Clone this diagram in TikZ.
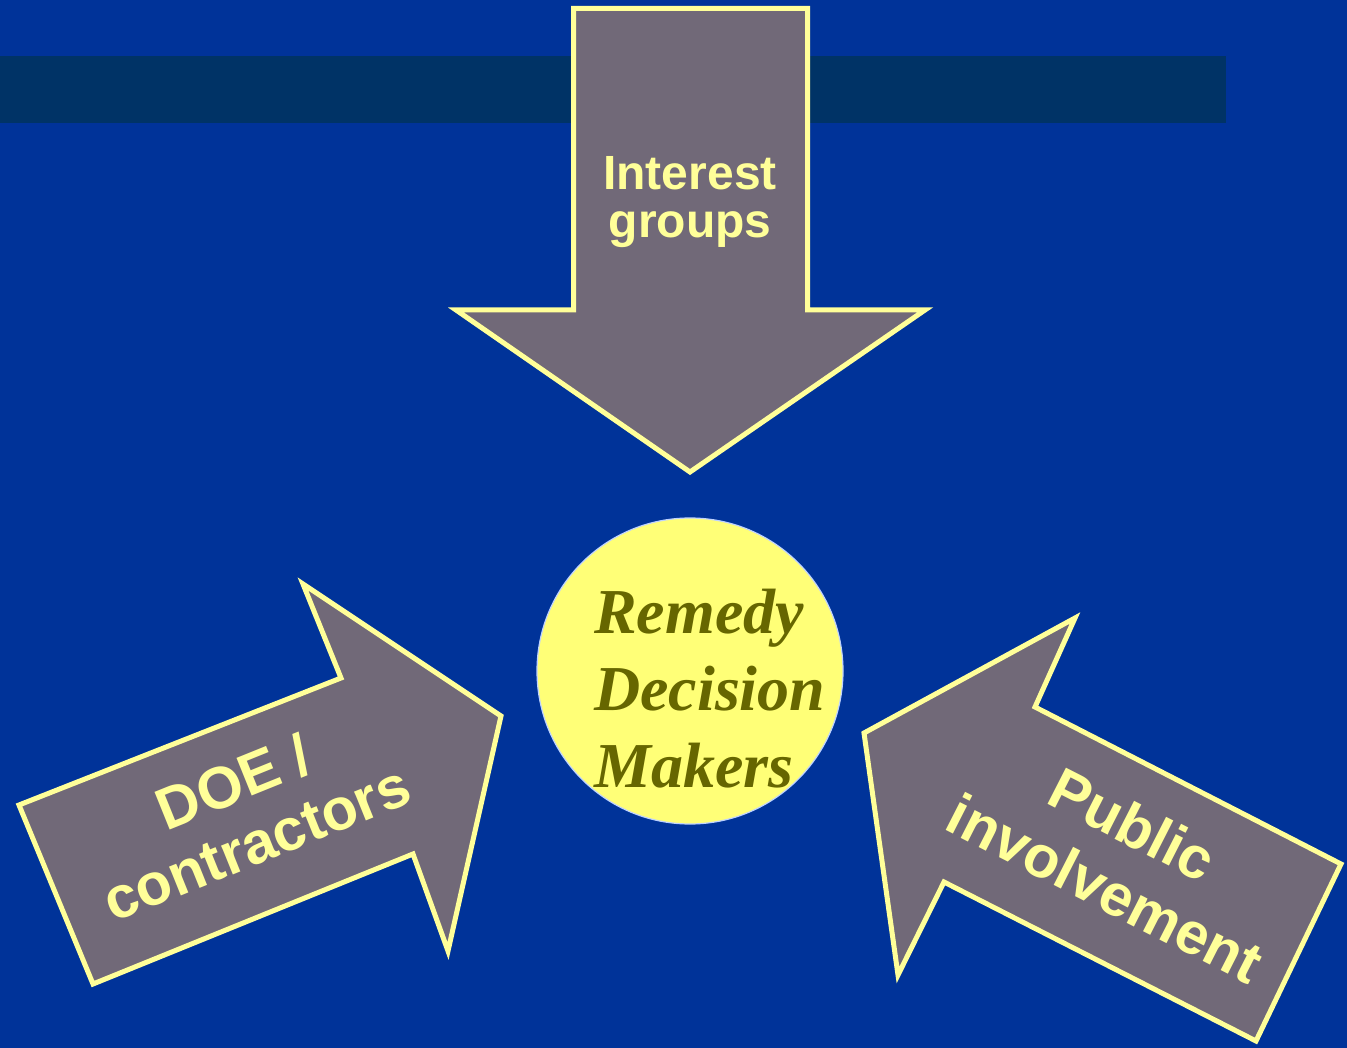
\documentclass[tikz,border=0pt]{standalone}
\usepackage{fontspec}
\setmainfont{Liberation Sans}
\newfontfamily\circlefont{Liberation Serif}
\definecolor{bgblue}{RGB}{0,51,153}
\definecolor{bandblue}{RGB}{0,51,102}
\definecolor{arrowgray}{RGB}{113,105,120}
\definecolor{paleyellow}{RGB}{255,255,153}
\definecolor{discyellow}{RGB}{255,255,119}
\definecolor{olive}{RGB}{102,102,0}
\definecolor{discedge}{RGB}{190,210,255}
\tikzset{
  bigarrow/.style={fill=arrowgray, draw=paleyellow, line width=5pt, line join=miter},
  toplabel/.style={inner sep=0pt, anchor=base, text=paleyellow, font=\fontsize{48}{48}\selectfont\bfseries},
  sidelabel/.style={inner sep=0pt, anchor=base, text=paleyellow, font=\fontsize{59}{59}\selectfont\bfseries},
  disclabel/.style={inner sep=0pt, anchor=base west, text=olive, font=\circlefont\fontsize{64}{64}\selectfont\bfseries\itshape},
  disc/.style={circle, fill=discyellow, draw=discedge, line width=1.2pt, minimum size=306pt, inner sep=0pt}
}
\begin{document}
\begin{tikzpicture}[x=1pt, y=-1pt]
  % background and band
  \fill[bgblue] (0,0) rectangle (1347,1048);
  \useasboundingbox (0,0) rectangle (1347,1048);
  \fill[bandblue] (0,56) rectangle (1226,123);

  % top arrow: Interest groups
  \draw[bigarrow] (573.5,8.5) -- (807.5,8.5) -- (807.5,310) -- (925,310)
     -- (690,472) -- (456,310) -- (573.5,310) -- cycle;
  \node[toplabel] (ig1) at (690,190) {Interest};
  \node[toplabel] (ig2) at (690,238) {groups};

  % left arrow: DOE / contractors
  \draw[bigarrow] (19,805) -- (341,678) -- (303,584) -- (501,716)
     -- (448,951) -- (413,854) -- (93,984) -- cycle;
  \node[sidelabel, rotate=22] (doe1) at (241,801) {DOE /};
  \node[sidelabel, rotate=22] (doe2) at (264,862) {contractors};

  % right arrow: Public involvement
  \draw[bigarrow] (864,733) -- (1075,618) -- (1035,707) -- (1341,864)
     -- (1256,1041) -- (944,882) -- (898,975) -- cycle;
  \node[sidelabel, rotate=-27] (pub1) at (1123,843) {Public};
  \node[sidelabel, rotate=-27] (pub2) at (1096,907) {involvement};

  % central disc
  \node[disc] (centre) at (690,671) {};
  \node[disclabel] (rd1) at (594,633) {Remedy};
  \node[disclabel] (rd2) at (594,710) {Decision};
  \node[disclabel] (rd3) at (594,787) {Makers};
\end{tikzpicture}
\end{document}
